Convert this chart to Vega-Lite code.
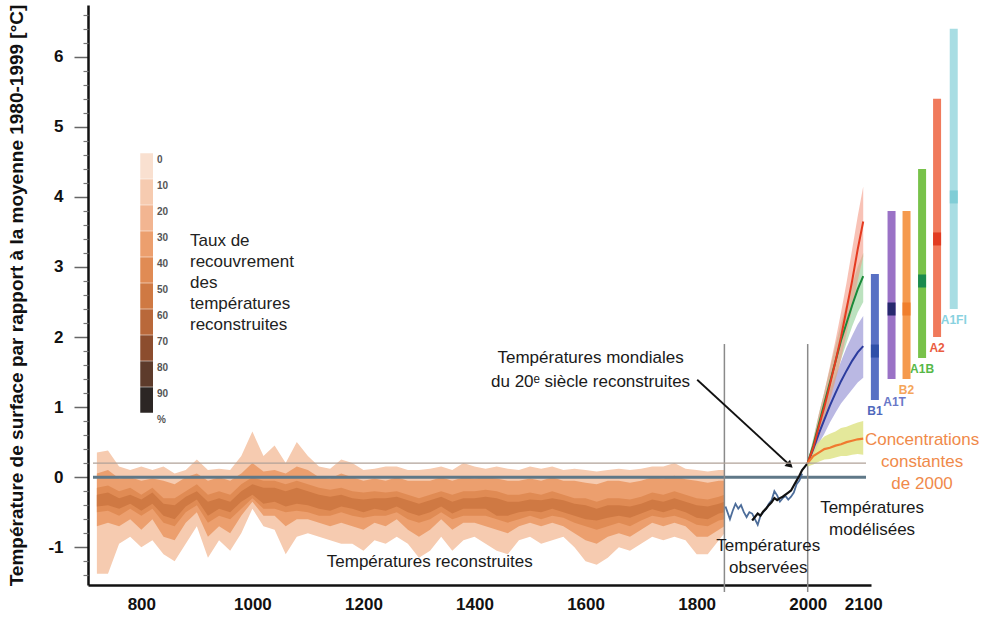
{
"$schema": "https://vega.github.io/schema/vega-lite/v6.json",
"width": 783, "height": 580,
"autosize": {"type": "none"},
"padding": {"left": 88, "top": 5, "right": 119, "bottom": 32},
"background": "#ffffff",
"config": {"view": {"stroke": null}, "font": "Liberation Sans"},
"datasets": {
"recon": [
{"year":720,"h1":0.35,"l1":-1.38,"h2":0.05,"l2":-0.7,"h3":-0.15,"l3":-0.5,"h4":-0.25,"l4":-0.42},
{"year":740,"h1":0.38,"l1":-1.38,"h2":0.1,"l2":-0.65,"h3":-0.12,"l3":-0.48,"h4":-0.22,"l4":-0.4},
{"year":760,"h1":0.15,"l1":-0.95,"h2":-0.02,"l2":-0.7,"h3":-0.2,"l3":-0.55,"h4":-0.3,"l4":-0.45},
{"year":780,"h1":0.1,"l1":-0.85,"h2":0.0,"l2":-0.6,"h3":-0.15,"l3":-0.45,"h4":-0.25,"l4":-0.38},
{"year":800,"h1":0.15,"l1":-1.0,"h2":-0.05,"l2":-0.75,"h3":-0.25,"l3":-0.55,"h4":-0.32,"l4":-0.48},
{"year":820,"h1":0.1,"l1":-0.9,"h2":-0.02,"l2":-0.6,"h3":-0.15,"l3":-0.45,"h4":-0.22,"l4":-0.38},
{"year":840,"h1":0.15,"l1":-1.1,"h2":-0.05,"l2":-0.85,"h3":-0.3,"l3":-0.65,"h4":-0.38,"l4":-0.55},
{"year":860,"h1":0.05,"l1":-1.2,"h2":-0.1,"l2":-0.9,"h3":-0.3,"l3":-0.7,"h4":-0.4,"l4":-0.6},
{"year":880,"h1":0.1,"l1":-0.95,"h2":0.0,"l2":-0.65,"h3":-0.2,"l3":-0.5,"h4":-0.28,"l4":-0.42},
{"year":900,"h1":0.25,"l1":-0.7,"h2":0.05,"l2":-0.5,"h3":-0.1,"l3":-0.4,"h4":-0.2,"l4":-0.32},
{"year":920,"h1":0.1,"l1":-1.15,"h2":-0.05,"l2":-0.85,"h3":-0.25,"l3":-0.65,"h4":-0.35,"l4":-0.55},
{"year":940,"h1":0.12,"l1":-0.9,"h2":0.0,"l2":-0.7,"h3":-0.2,"l3":-0.55,"h4":-0.3,"l4":-0.45},
{"year":960,"h1":0.1,"l1":-1.05,"h2":-0.05,"l2":-0.8,"h3":-0.25,"l3":-0.6,"h4":-0.35,"l4":-0.5},
{"year":980,"h1":0.3,"l1":-0.8,"h2":0.05,"l2":-0.55,"h3":-0.1,"l3":-0.45,"h4":-0.2,"l4":-0.35},
{"year":1000,"h1":0.65,"l1":-0.45,"h2":0.2,"l2":-0.35,"h3":0.0,"l3":-0.3,"h4":-0.1,"l4":-0.25},
{"year":1020,"h1":0.3,"l1":-0.7,"h2":0.08,"l2":-0.55,"h3":-0.05,"l3":-0.45,"h4":-0.15,"l4":-0.38},
{"year":1040,"h1":0.45,"l1":-0.75,"h2":0.1,"l2":-0.55,"h3":-0.05,"l3":-0.45,"h4":-0.15,"l4":-0.35},
{"year":1060,"h1":0.2,"l1":-1.1,"h2":0.05,"l2":-0.7,"h3":-0.1,"l3":-0.5,"h4":-0.2,"l4":-0.42},
{"year":1080,"h1":0.5,"l1":-0.85,"h2":0.15,"l2":-0.6,"h3":-0.05,"l3":-0.48,"h4":-0.15,"l4":-0.38},
{"year":1100,"h1":0.3,"l1":-0.8,"h2":0.1,"l2":-0.6,"h3":-0.1,"l3":-0.5,"h4":-0.2,"l4":-0.4},
{"year":1120,"h1":0.15,"l1":-0.85,"h2":0.0,"l2":-0.65,"h3":-0.15,"l3":-0.55,"h4":-0.25,"l4":-0.45},
{"year":1140,"h1":0.12,"l1":-0.9,"h2":-0.02,"l2":-0.7,"h3":-0.18,"l3":-0.55,"h4":-0.28,"l4":-0.48},
{"year":1160,"h1":0.25,"l1":-0.95,"h2":0.05,"l2":-0.65,"h3":-0.15,"l3":-0.5,"h4":-0.25,"l4":-0.42},
{"year":1180,"h1":0.2,"l1":-0.95,"h2":0.0,"l2":-0.7,"h3":-0.2,"l3":-0.55,"h4":-0.3,"l4":-0.45},
{"year":1200,"h1":0.1,"l1":-1.05,"h2":-0.05,"l2":-0.75,"h3":-0.22,"l3":-0.58,"h4":-0.32,"l4":-0.5},
{"year":1220,"h1":0.12,"l1":-0.9,"h2":-0.02,"l2":-0.65,"h3":-0.2,"l3":-0.55,"h4":-0.3,"l4":-0.45},
{"year":1240,"h1":0.15,"l1":-0.95,"h2":-0.05,"l2":-0.7,"h3":-0.22,"l3":-0.55,"h4":-0.3,"l4":-0.48},
{"year":1260,"h1":0.15,"l1":-0.85,"h2":0.0,"l2":-0.6,"h3":-0.2,"l3":-0.5,"h4":-0.28,"l4":-0.42},
{"year":1280,"h1":0.1,"l1":-0.95,"h2":-0.05,"l2":-0.75,"h3":-0.25,"l3":-0.6,"h4":-0.33,"l4":-0.5},
{"year":1300,"h1":0.1,"l1":-1.15,"h2":-0.05,"l2":-0.85,"h3":-0.3,"l3":-0.65,"h4":-0.38,"l4":-0.55},
{"year":1320,"h1":0.12,"l1":-1.05,"h2":-0.05,"l2":-0.75,"h3":-0.25,"l3":-0.6,"h4":-0.33,"l4":-0.5},
{"year":1340,"h1":0.15,"l1":-0.85,"h2":0.0,"l2":-0.6,"h3":-0.2,"l3":-0.5,"h4":-0.28,"l4":-0.42},
{"year":1360,"h1":0.1,"l1":-1.05,"h2":-0.05,"l2":-0.75,"h3":-0.25,"l3":-0.6,"h4":-0.35,"l4":-0.52},
{"year":1380,"h1":0.2,"l1":-0.9,"h2":0.0,"l2":-0.65,"h3":-0.2,"l3":-0.55,"h4":-0.3,"l4":-0.45},
{"year":1400,"h1":0.15,"l1":-0.85,"h2":-0.02,"l2":-0.65,"h3":-0.2,"l3":-0.55,"h4":-0.3,"l4":-0.45},
{"year":1420,"h1":0.12,"l1":-0.95,"h2":0.0,"l2":-0.7,"h3":-0.18,"l3":-0.55,"h4":-0.28,"l4":-0.45},
{"year":1440,"h1":0.15,"l1":-1.05,"h2":-0.02,"l2":-0.75,"h3":-0.2,"l3":-0.6,"h4":-0.3,"l4":-0.55},
{"year":1460,"h1":0.12,"l1":-1.1,"h2":-0.05,"l2":-0.8,"h3":-0.25,"l3":-0.65,"h4":-0.35,"l4":-0.55},
{"year":1480,"h1":0.1,"l1":-0.9,"h2":-0.05,"l2":-0.7,"h3":-0.25,"l3":-0.6,"h4":-0.35,"l4":-0.5},
{"year":1500,"h1":0.15,"l1":-0.85,"h2":-0.02,"l2":-0.65,"h3":-0.22,"l3":-0.55,"h4":-0.32,"l4":-0.48},
{"year":1520,"h1":0.12,"l1":-0.95,"h2":-0.05,"l2":-0.7,"h3":-0.25,"l3":-0.6,"h4":-0.33,"l4":-0.5},
{"year":1540,"h1":0.15,"l1":-0.9,"h2":0.0,"l2":-0.65,"h3":-0.2,"l3":-0.55,"h4":-0.3,"l4":-0.45},
{"year":1560,"h1":0.1,"l1":-0.85,"h2":-0.05,"l2":-0.7,"h3":-0.25,"l3":-0.58,"h4":-0.33,"l4":-0.5},
{"year":1580,"h1":0.12,"l1":-1.0,"h2":-0.05,"l2":-0.8,"h3":-0.3,"l3":-0.65,"h4":-0.38,"l4":-0.55},
{"year":1600,"h1":0.1,"l1":-1.2,"h2":-0.08,"l2":-0.9,"h3":-0.3,"l3":-0.7,"h4":-0.4,"l4":-0.6},
{"year":1620,"h1":0.08,"l1":-1.25,"h2":-0.1,"l2":-0.95,"h3":-0.35,"l3":-0.75,"h4":-0.45,"l4":-0.62},
{"year":1640,"h1":0.1,"l1":-1.15,"h2":-0.05,"l2":-0.85,"h3":-0.3,"l3":-0.7,"h4":-0.4,"l4":-0.58},
{"year":1660,"h1":0.12,"l1":-1.0,"h2":-0.05,"l2":-0.8,"h3":-0.3,"l3":-0.65,"h4":-0.4,"l4":-0.55},
{"year":1680,"h1":0.1,"l1":-1.05,"h2":-0.08,"l2":-0.85,"h3":-0.32,"l3":-0.7,"h4":-0.42,"l4":-0.58},
{"year":1700,"h1":0.12,"l1":-0.95,"h2":-0.05,"l2":-0.75,"h3":-0.28,"l3":-0.62,"h4":-0.38,"l4":-0.52},
{"year":1720,"h1":0.15,"l1":-0.85,"h2":0.0,"l2":-0.65,"h3":-0.22,"l3":-0.55,"h4":-0.32,"l4":-0.46},
{"year":1740,"h1":0.15,"l1":-0.9,"h2":-0.02,"l2":-0.7,"h3":-0.25,"l3":-0.58,"h4":-0.35,"l4":-0.5},
{"year":1760,"h1":0.2,"l1":-0.85,"h2":0.02,"l2":-0.65,"h3":-0.2,"l3":-0.55,"h4":-0.3,"l4":-0.45},
{"year":1780,"h1":0.12,"l1":-0.9,"h2":-0.03,"l2":-0.7,"h3":-0.25,"l3":-0.6,"h4":-0.35,"l4":-0.5},
{"year":1800,"h1":0.1,"l1":-1.1,"h2":-0.05,"l2":-0.85,"h3":-0.3,"l3":-0.68,"h4":-0.4,"l4":-0.58},
{"year":1820,"h1":0.08,"l1":-1.1,"h2":-0.08,"l2":-0.85,"h3":-0.32,"l3":-0.7,"h4":-0.42,"l4":-0.6},
{"year":1840,"h1":0.1,"l1":-0.9,"h2":-0.05,"l2":-0.75,"h3":-0.28,"l3":-0.62,"h4":-0.38,"l4":-0.52},
{"year":1850,"h1":0.1,"l1":-0.8,"h2":-0.05,"l2":-0.7,"h3":-0.25,"l3":-0.6,"h4":-0.35,"l4":-0.5}
],
"obs": [
{"year":1852,"t":-0.42},{"year":1860,"t":-0.6},{"year":1865,"t":-0.48},{"year":1870,"t":-0.38},
{"year":1875,"t":-0.45},{"year":1880,"t":-0.4},{"year":1885,"t":-0.5},{"year":1890,"t":-0.57},
{"year":1895,"t":-0.5},{"year":1900,"t":-0.52},{"year":1905,"t":-0.6},{"year":1910,"t":-0.68},
{"year":1915,"t":-0.55},{"year":1920,"t":-0.5},{"year":1925,"t":-0.45},{"year":1930,"t":-0.38},
{"year":1935,"t":-0.33},{"year":1940,"t":-0.2},{"year":1945,"t":-0.26},{"year":1950,"t":-0.35},
{"year":1955,"t":-0.3},{"year":1960,"t":-0.27},{"year":1965,"t":-0.32},{"year":1970,"t":-0.28},
{"year":1975,"t":-0.22},{"year":1980,"t":-0.1},{"year":1985,"t":-0.05},{"year":1990,"t":0.05}
],
"rec20": [
{"year":1900,"t":-0.62},{"year":1905,"t":-0.57},{"year":1910,"t":-0.52},{"year":1915,"t":-0.55},
{"year":1920,"t":-0.49},{"year":1925,"t":-0.45},{"year":1930,"t":-0.4},{"year":1935,"t":-0.36},
{"year":1940,"t":-0.3},{"year":1945,"t":-0.33},{"year":1950,"t":-0.3},{"year":1955,"t":-0.28},
{"year":1960,"t":-0.25},{"year":1965,"t":-0.22},{"year":1970,"t":-0.19},{"year":1975,"t":-0.12},
{"year":1980,"t":-0.05},{"year":1985,"t":0.02},{"year":1990,"t":0.1},{"year":1995,"t":0.15},{"year":2000,"t":0.2}
],
"proj": [
{"year":2000,"a2":0.2,"a2lo":0.17,"a2hi":0.23,"a1b":0.2,"a1blo":0.17,"a1bhi":0.23,"b1":0.2,"b1lo":0.17,"b1hi":0.23,"c":0.2,"clo":0.15,"chi":0.25},
{"year":2010,"a2":0.42,"a2lo":0.32,"a2hi":0.52,"a1b":0.45,"a1blo":0.35,"a1bhi":0.55,"b1":0.4,"b1lo":0.3,"b1hi":0.5,"c":0.3,"clo":0.18,"chi":0.42},
{"year":2020,"a2":0.72,"a2lo":0.55,"a2hi":0.9,"a1b":0.75,"a1blo":0.6,"a1bhi":0.9,"b1":0.62,"b1lo":0.48,"b1hi":0.8,"c":0.35,"clo":0.22,"chi":0.5},
{"year":2030,"a2":1.0,"a2lo":0.8,"a2hi":1.22,"a1b":1.05,"a1blo":0.85,"a1bhi":1.22,"b1":0.82,"b1lo":0.62,"b1hi":1.02,"c":0.4,"clo":0.25,"chi":0.58},
{"year":2040,"a2":1.32,"a2lo":1.08,"a2hi":1.58,"a1b":1.35,"a1blo":1.12,"a1bhi":1.55,"b1":1.02,"b1lo":0.78,"b1hi":1.25,"c":0.42,"clo":0.26,"chi":0.62},
{"year":2050,"a2":1.65,"a2lo":1.38,"a2hi":1.95,"a1b":1.65,"a1blo":1.4,"a1bhi":1.88,"b1":1.2,"b1lo":0.92,"b1hi":1.45,"c":0.45,"clo":0.28,"chi":0.65},
{"year":2060,"a2":2.0,"a2lo":1.68,"a2hi":2.35,"a1b":1.95,"a1blo":1.68,"a1bhi":2.2,"b1":1.37,"b1lo":1.05,"b1hi":1.65,"c":0.47,"clo":0.3,"chi":0.7},
{"year":2070,"a2":2.4,"a2lo":2.05,"a2hi":2.78,"a1b":2.2,"a1blo":1.92,"a1bhi":2.48,"b1":1.52,"b1lo":1.15,"b1hi":1.85,"c":0.5,"clo":0.3,"chi":0.72},
{"year":2080,"a2":2.8,"a2lo":2.4,"a2hi":3.25,"a1b":2.45,"a1blo":2.15,"a1bhi":2.75,"b1":1.66,"b1lo":1.25,"b1hi":2.02,"c":0.52,"clo":0.32,"chi":0.75},
{"year":2090,"a2":3.25,"a2lo":2.8,"a2hi":3.72,"a1b":2.68,"a1blo":2.35,"a1bhi":3.0,"b1":1.78,"b1lo":1.35,"b1hi":2.18,"c":0.54,"clo":0.33,"chi":0.78},
{"year":2100,"a2":3.65,"a2lo":3.15,"a2hi":4.15,"a1b":2.87,"a1blo":2.5,"a1bhi":3.2,"b1":1.87,"b1lo":1.42,"b1hi":2.3,"c":0.55,"clo":0.32,"chi":0.8}
],
"scen": [
{"scen":"B1","year":2121,"lo":1.1,"hi":2.9,"best":1.8},
{"scen":"A1T","year":2151,"lo":1.4,"hi":3.8,"best":2.4},
{"scen":"B2","year":2178,"lo":1.4,"hi":3.8,"best":2.4},
{"scen":"A1B","year":2206,"lo":1.7,"hi":4.4,"best":2.8},
{"scen":"A2","year":2233,"lo":2.0,"hi":5.4,"best":3.4},
{"scen":"A1FI","year":2263,"lo":2.4,"hi":6.4,"best":4.0}
]
},
"resolve": {"axis": {"y": "independent"}},
"layer": [
{"resolve": {"scale": {"fill": "independent"}},
 "layer": [
{"data": {"name": "recon"}, "mark": {"type": "area", "opacity": 1},
 "encoding": {
  "x": {"field": "year", "type": "quantitative", "scale": {"domain": [713, 2105], "nice": false, "zero": false},
   "axis": {"title": null, "values": [800,1000,1200,1400,1600,1800,2000,2100], "format": "d", "ticks": false, "grid": false,
    "domainColor": "#111111", "domainWidth": 2.5, "labelFont": "Liberation Sans", "labelFontSize": 17, "labelFontWeight": "bold",
    "labelColor": "#111111", "labelPadding": 11, "labelFlush": false, "labelOverlap": false}},
  "y": {"field": "l1", "type": "quantitative", "scale": {"domain": [-1.54, 6.74], "nice": false, "zero": false},
   "axis": {"title": "Température de surface par rapport à la moyenne 1980-1999 [°C]", "orient": "left",
    "values": [-1,0,1,2,3,4,5,6], "labelExpr": "'' + round(datum.value)",
    "tickSize": 14, "tickColor": "#666666", "tickWidth": 1.5, "grid": false,
    "domainColor": "#111111", "domainWidth": 2.5, "labelFont": "Liberation Sans", "labelFontSize": 17, "labelFontWeight": "bold",
    "labelColor": "#111111", "labelPadding": 11, "labelOverlap": false, "labelFlush": false,
    "titleFont": "Liberation Sans", "titleFontSize": 19, "titleFontWeight": "bold", "titleColor": "#111111", "titlePadding": 21}},
  "y2": {"field": "h1"},
  "color": {"datum": "10", "type": "nominal",
   "scale": {"domain": ["0","10","20","30","40","50","60","70","80","90","%"],
    "range": ["#f9e0d0","#f6cbb0","#f2b591","#ec9f6e","#e08b54","#cf7943","#b9683a","#8c4d2e","#5d3b2b","#2c2624","transparent"]},
   "legend": {"orient": "none", "legendX": 52, "legendY": 148, "direction": "vertical",
    "symbolType": "M-1,-1H0V1H-1Z", "symbolSize": 650, "symbolOpacity": 1, "symbolStrokeWidth": 0, "rowPadding": 0, "padding": 0,
    "labelFont": "Liberation Sans", "labelFontSize": 10, "labelFontWeight": "bold", "labelColor": "#555555", "labelOffset": -9,
    "title": ["Taux de", "recouvrement", "des", "températures", "reconstruites"],
    "titleOrient": "right", "titleAnchor": "middle", "titleBaseline": "middle", "titleFont": "Liberation Sans", "titleFontSize": 17,
    "titleFontWeight": "normal", "titleColor": "#222222", "titleLineHeight": 21, "titlePadding": 22,
    "encode": {"labels": {"update": {"dy": {"value": -6.5}}}, "title": {"update": {"dy": {"value": -13}}}}}}
 }},
{"data": {"name": "recon"}, "mark": {"type": "area", "opacity": 1},
 "encoding": {"x": {"field": "year", "type": "quantitative"}, "y": {"field": "l2", "type": "quantitative"}, "y2": {"field": "h2"}, "color": {"datum": "30", "type": "nominal"}}},
{"data": {"name": "recon"}, "mark": {"type": "area", "opacity": 1},
 "encoding": {"x": {"field": "year", "type": "quantitative"}, "y": {"field": "l3", "type": "quantitative"}, "y2": {"field": "h3"}, "color": {"datum": "40", "type": "nominal"}}},
{"data": {"name": "recon"}, "mark": {"type": "area", "opacity": 1},
 "encoding": {"x": {"field": "year", "type": "quantitative"}, "y": {"field": "l4", "type": "quantitative"}, "y2": {"field": "h4"}, "color": {"datum": "50", "type": "nominal"}}},
{"data": {"values": [{}]}, "mark": {"type": "rule", "color": "#5f7888", "strokeWidth": 3},
 "encoding": {"x": {"datum": 713}, "x2": {"datum": 2105}, "y": {"datum": 0}}},
{"data": {"values": [{"year": 1850}, {"year": 2000}]}, "mark": {"type": "rule", "color": "#8a8a8a", "strokeWidth": 1.5},
 "encoding": {"x": {"field": "year", "type": "quantitative"}, "y": {"datum": -1.64}, "y2": {"datum": 1.9}}},
{"data": {"name": "obs"}, "mark": {"type": "line", "color": "#4d6d9a", "strokeWidth": 1.8},
 "encoding": {"x": {"field": "year", "type": "quantitative"}, "y": {"field": "t", "type": "quantitative"}}},
{"data": {"name": "rec20"}, "mark": {"type": "line", "color": "#111111", "strokeWidth": 2.2},
 "encoding": {"x": {"field": "year", "type": "quantitative"}, "y": {"field": "t", "type": "quantitative"}}},
{"data": {"name": "proj"}, "mark": {"type": "area", "color": "#a9a6dc", "opacity": 0.8},
 "encoding": {"x": {"field": "year", "type": "quantitative"}, "y": {"field": "b1lo", "type": "quantitative"}, "y2": {"field": "b1hi"}}},
{"data": {"name": "proj"}, "mark": {"type": "area", "color": "#8fcf95", "opacity": 0.6},
 "encoding": {"x": {"field": "year", "type": "quantitative"}, "y": {"field": "a1blo", "type": "quantitative"}, "y2": {"field": "a1bhi"}}},
{"data": {"name": "proj"}, "mark": {"type": "area", "color": "#f39a86", "opacity": 0.6},
 "encoding": {"x": {"field": "year", "type": "quantitative"}, "y": {"field": "a2lo", "type": "quantitative"}, "y2": {"field": "a2hi"}}},
{"data": {"name": "proj"}, "mark": {"type": "area", "color": "#dfe48a", "opacity": 0.85},
 "encoding": {"x": {"field": "year", "type": "quantitative"}, "y": {"field": "clo", "type": "quantitative"}, "y2": {"field": "chi"}}},
{"data": {"name": "proj"}, "mark": {"type": "line", "color": "#2c3c9e", "strokeWidth": 2},
 "encoding": {"x": {"field": "year", "type": "quantitative"}, "y": {"field": "b1", "type": "quantitative"}}},
{"data": {"name": "proj"}, "mark": {"type": "line", "color": "#1a8a3a", "strokeWidth": 2},
 "encoding": {"x": {"field": "year", "type": "quantitative"}, "y": {"field": "a1b", "type": "quantitative"}}},
{"data": {"name": "proj"}, "mark": {"type": "line", "color": "#e53a20", "strokeWidth": 2},
 "encoding": {"x": {"field": "year", "type": "quantitative"}, "y": {"field": "a2", "type": "quantitative"}}},
{"data": {"name": "proj"}, "mark": {"type": "line", "color": "#f07a30", "strokeWidth": 2.2},
 "encoding": {"x": {"field": "year", "type": "quantitative"}, "y": {"field": "c", "type": "quantitative"}}},
{"data": {"name": "scen"}, "mark": {"type": "bar", "size": 8, "opacity": 1},
 "encoding": {"x": {"field": "year", "type": "quantitative"}, "y": {"field": "lo", "type": "quantitative"}, "y2": {"field": "hi"},
  "fill": {"field": "scen", "type": "nominal", "legend": null,
   "scale": {"domain": ["B1","A1T","B2","A1B","A2","A1FI"], "range": ["#5870c4","#9a72c6","#f59a4e","#78c24a","#f07a5c","#a8dde3"]}}}},
{"data": {"name": "scen"}, "mark": {"type": "tick", "orient": "horizontal", "size": 8, "thickness": 13, "opacity": 1},
 "encoding": {"x": {"field": "year", "type": "quantitative"}, "y": {"field": "best", "type": "quantitative"},
  "fill": {"field": "scen", "type": "nominal", "legend": null,
   "scale": {"domain": ["B1","A1T","B2","A1B","A2","A1FI"], "range": ["#2e4fa8","#27286e","#f07f2c","#1a8a4e","#e23c22","#80cdd6"]}}}},
{"data": {"name": "scen"}, "transform": [{"filter": "datum.scen !== 'A1T'"}],
 "mark": {"type": "text", "dy": 11, "fontSize": 12, "fontWeight": "bold", "font": "Liberation Sans", "align": "center", "baseline": "middle"},
 "encoding": {"x": {"field": "year", "type": "quantitative"}, "y": {"field": "lo", "type": "quantitative"}, "text": {"field": "scen"},
  "fill": {"field": "scen", "type": "nominal", "legend": null,
   "scale": {"domain": ["B1","B2","A1B","A2","A1FI"], "range": ["#5068bc","#f5a55a","#56b848","#ea5c40","#88d2e0"]}}}},
{"data": {"name": "scen"}, "transform": [{"filter": "datum.scen === 'A1T'"}],
 "mark": {"type": "text", "dy": 23, "dx": 3, "fontSize": 12, "fontWeight": "bold", "font": "Liberation Sans", "align": "center", "baseline": "middle", "color": "#6a78c8"},
 "encoding": {"x": {"field": "year", "type": "quantitative"}, "y": {"field": "lo", "type": "quantitative"}, "text": {"field": "scen"}}},
{"data": {"values": [{}]}, "mark": {"type": "rule", "color": "#111111", "strokeWidth": 1.8},
 "encoding": {"x": {"datum": 1801}, "y": {"datum": 1.39}, "x2": {"datum": 1968}, "y2": {"datum": 0.17}}},
{"data": {"values": [{}]}, "mark": {"type": "point", "shape": "triangle-right", "angle": 42, "size": 70, "filled": true, "color": "#111111", "opacity": 1},
 "encoding": {"x": {"datum": 1968}, "y": {"datum": 0.17}}},
{"data": {"values": [{}]}, "mark": {"type": "text", "align": "center", "baseline": "middle", "fontSize": 17, "lineHeight": 24, "color": "#1a1a1a", "font": "Liberation Sans"},
 "encoding": {"x": {"datum": 1609}, "y": {"datum": 1.7}, "text": {"value": ["Températures  mondiales", "du 20ᵉ siècle reconstruites"]}}},
{"data": {"values": [{}]}, "mark": {"type": "text", "align": "left", "baseline": "middle", "fontSize": 17, "color": "#1a1a1a", "font": "Liberation Sans"},
 "encoding": {"x": {"datum": 1134}, "y": {"datum": -1.21}, "text": {"value": "Températures  reconstruites"}}},
{"data": {"values": [{}]}, "mark": {"type": "text", "align": "center", "baseline": "middle", "fontSize": 17, "lineHeight": 22, "color": "#1a1a1a", "font": "Liberation Sans"},
 "encoding": {"x": {"datum": 1929}, "y": {"datum": -0.99}, "text": {"value": ["Températures", "observées"]}}},
{"data": {"values": [{}]}, "mark": {"type": "text", "align": "center", "baseline": "middle", "fontSize": 17, "lineHeight": 22, "color": "#1a1a1a", "font": "Liberation Sans"},
 "encoding": {"x": {"datum": 2116}, "y": {"datum": -0.44}, "text": {"value": ["Températures", "modélisées"]}}},
{"data": {"values": [{}]}, "mark": {"type": "text", "align": "center", "baseline": "middle", "fontSize": 17, "lineHeight": 22, "color": "#f08a4a", "font": "Liberation Sans"},
 "encoding": {"x": {"datum": 2206}, "y": {"datum": 0.53}, "text": {"value": ["Concentrations", "constantes", "de 2000"]}}}
 ]},
{"data": {"values": [{}]}, "mark": {"type": "rule", "color": "#b0a298", "strokeWidth": 1.2},
 "encoding": {"x": {"datum": 713}, "x2": {"datum": 2105},
  "y": {"datum": 0.2, "type": "quantitative",
   "axis": {"orient": "left", "title": null, "labels": false, "domain": false, "grid": false, "tickSize": 5, "tickColor": "#777777", "tickWidth": 1.2,
    "values": [-1.4,-1.2,-0.8,-0.6,-0.4,-0.2,0.2,0.4,0.6,0.8,1.2,1.4,1.6,1.8,2.2,2.4,2.6,2.8,3.2,3.4,3.6,3.8,4.2,4.4,4.6,4.8,5.2,5.4,5.6,5.8,6.2,6.4,6.6]}}}}
]
}
